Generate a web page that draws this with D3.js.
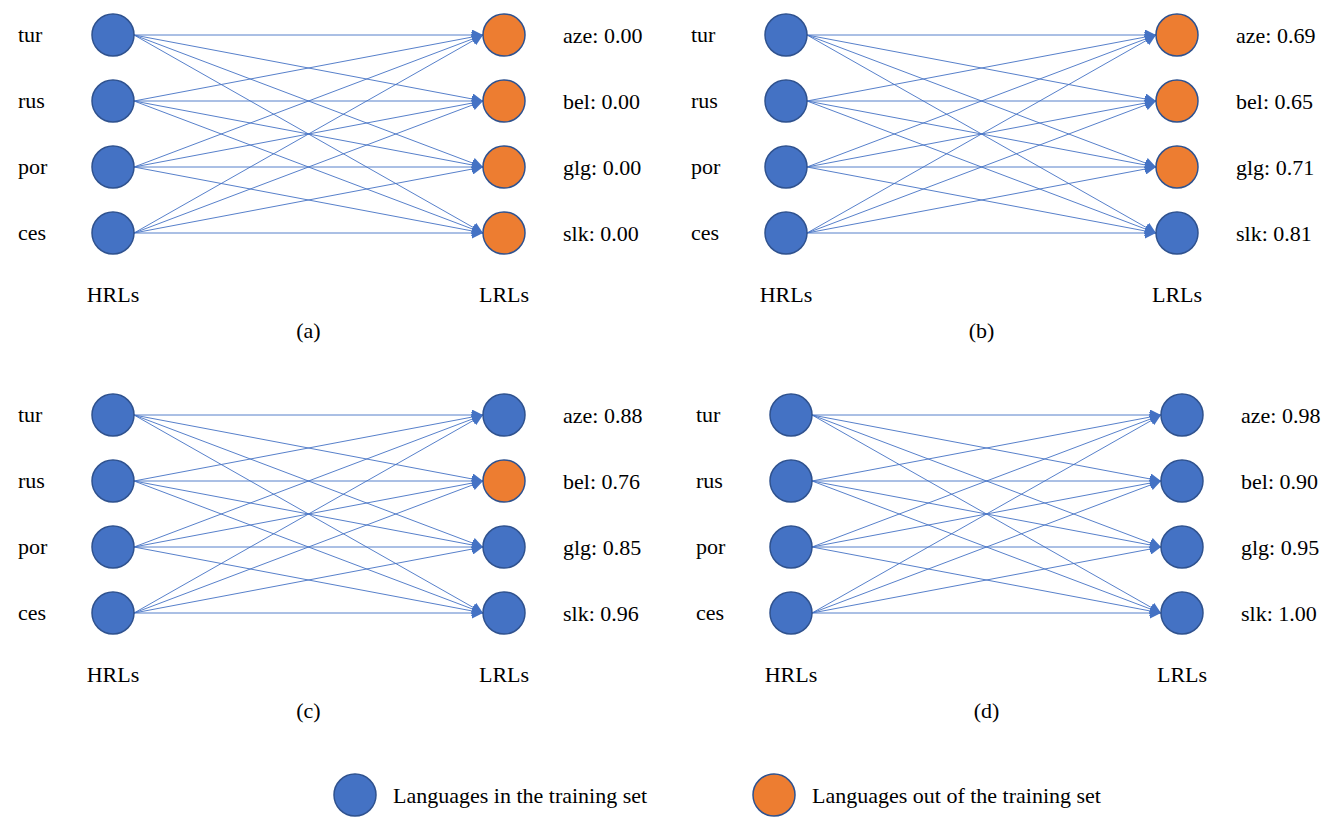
<!DOCTYPE html>
<html>
<head>
<meta charset="utf-8">
<script src="https://cdn.jsdelivr.net/npm/d3@7"></script>
<style>
  body { margin: 0; background: #fff; }
</style>
</head>
<body>
<div id="container"></div>
<script>
// data
const hrls = ['tur', 'rus', 'por', 'ces'];
const lrls = ['aze', 'bel', 'glg', 'slk'];
const captions = ['(a)', '(b)', '(c)', '(d)'];
const scoresA = [0.00, 0.00, 0.00, 0.00];
const scoresB = [0.69, 0.65, 0.71, 0.81];
const scoresC = [0.88, 0.76, 0.85, 0.96];
const scoresD = [0.98, 0.90, 0.95, 1.00];
// true = in the training set (blue), false = out (orange)
const trainedA = [false, false, false, false];
const trainedB = [false, false, false, true];
const trainedC = [true, false, true, true];
const trainedD = [true, true, true, true];
const legendLabels = ['Languages in the training set', 'Languages out of the training set'];

const panels = [
  {caption: captions[0], scores: scoresA, trained: trainedA},
  {caption: captions[1], scores: scoresB, trained: trainedB},
  {caption: captions[2], scores: scoresC, trained: trainedC},
  {caption: captions[3], scores: scoresD, trained: trainedD}
];

const blue = '#4472C4', orange = '#ED7D31', outline = '#2F528F';
const r = 21;

const svg = d3.select('#container').append('svg')
  .attr('width', 1333).attr('height', 830)
  .style('font-family', "'Liberation Serif', 'Times New Roman', serif")
  .style('font-size', '22px');

svg.append('defs').append('marker')
  .attr('id', 'arrow')
  .attr('markerUnits', 'userSpaceOnUse')
  .attr('viewBox', '0 0 10 10')
  .attr('refX', 10).attr('refY', 5)
  .attr('markerWidth', 11).attr('markerHeight', 11)
  .attr('orient', 'auto')
  .append('path')
  .attr('d', 'M0,0 L10,5 L0,10 Z')
  .attr('fill', blue);

// layout of the 2x2 grid
const panelX = d3.scaleOrdinal().domain([0, 1, 2, 3]).range([0, 673, 0, 678]);
const panelY = d3.scaleOrdinal().domain([0, 1, 2, 3]).range([0, 0, 380, 380]);

const y = d3.scalePoint().domain(d3.range(4)).range([35, 233]);
const x = d3.scaleOrdinal().domain(['label', 'hrl', 'lrl', 'score'])
  .range([18, 113, 504, 563]);

const fmt = d3.format('.2f');

panels.forEach((p, k) => {
  const g = svg.append('g')
    .attr('transform', `translate(${panelX(k)},${panelY(k)})`);

  // edges
  const edges = [];
  hrls.forEach((h, i) => lrls.forEach((l, j) => edges.push({i, j})));
  g.selectAll('line.edge').data(edges).join('line')
    .attr('class', 'edge')
    .attr('x1', x('hrl') + r).attr('y1', d => y(d.i))
    .attr('x2', x('lrl') - r).attr('y2', d => y(d.j))
    .attr('stroke', blue).attr('stroke-width', 0.9)
    .attr('marker-end', 'url(#arrow)');

  // HRL nodes
  g.selectAll('circle.hrl').data(hrls).join('circle')
    .attr('class', 'hrl')
    .attr('cx', x('hrl')).attr('cy', (d, i) => y(i)).attr('r', r)
    .attr('fill', blue).attr('stroke', outline).attr('stroke-width', 1.5);

  g.selectAll('text.hrl').data(hrls).join('text')
    .attr('class', 'hrl')
    .attr('x', x('label')).attr('y', (d, i) => y(i)).attr('dy', '0.3em')
    .text(d => d);

  // LRL nodes
  g.selectAll('circle.lrl').data(lrls).join('circle')
    .attr('class', 'lrl')
    .attr('cx', x('lrl')).attr('cy', (d, i) => y(i)).attr('r', r)
    .attr('fill', (d, i) => p.trained[i] ? blue : orange)
    .attr('stroke', outline).attr('stroke-width', 1.5);

  g.selectAll('text.lrl').data(lrls).join('text')
    .attr('class', 'lrl')
    .attr('x', x('score')).attr('y', (d, i) => y(i)).attr('dy', '0.35em')
    .text((d, i) => `${d}: ${fmt(p.scores[i])}`);

  g.append('text').attr('x', x('hrl')).attr('y', 302)
    .attr('text-anchor', 'middle').text('HRLs');
  g.append('text').attr('x', x('lrl')).attr('y', 302)
    .attr('text-anchor', 'middle').text('LRLs');
  g.append('text').attr('x', (x('hrl') + x('lrl')) / 2).attr('y', 338)
    .attr('text-anchor', 'middle').text(p.caption);
});

// legend
const legendX = d3.scaleOrdinal().domain(legendLabels).range([355, 774]);
const lg = svg.selectAll('g.legend').data(legendLabels).join('g')
  .attr('class', 'legend')
  .attr('transform', d => `translate(${legendX(d)},795)`);
lg.append('circle').attr('r', 21)
  .attr('fill', (d, i) => i === 0 ? blue : orange)
  .attr('stroke', outline).attr('stroke-width', 1.5);
lg.append('text').attr('x', 38).attr('dy', '0.35em').text(d => d);
</script>
</body>
</html>
